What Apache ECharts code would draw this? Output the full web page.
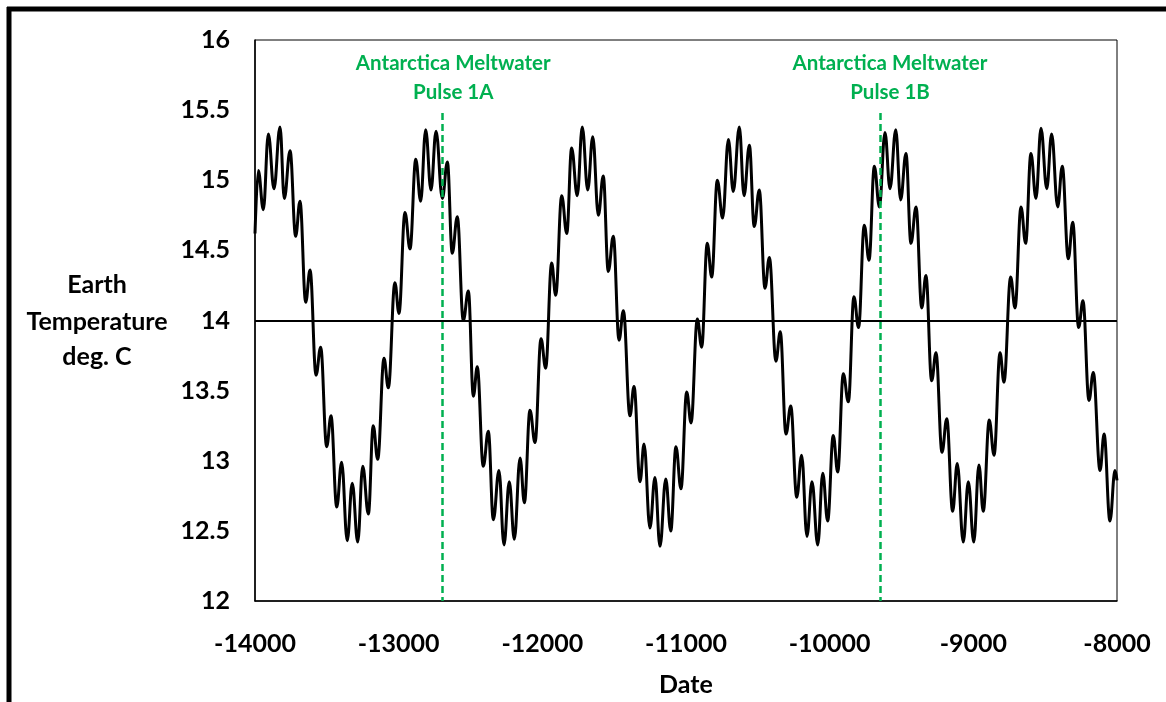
<!DOCTYPE html>
<html><head><meta charset="utf-8">
<script src="https://cdn.jsdelivr.net/npm/echarts@6/dist/echarts.min.js"></script>
<style>html,body{margin:0;padding:0;background:#fff}#c{width:1166px;height:702px}</style>
</head><body><div id="c"></div>
<script>
// Earth temperature curve (local maxima / minima)
const dates = [
-14000,-13977,-13942,-13907,-13868,-13826,-13796,-13756,-13717,-13687,-13647,-13617,
-13575,-13543,-13501,-13471,-13431,-13397,-13358,-13323,-13285,-13250,-13211,-13177,
-13146,-13102,-13072,-13026,-12998,-12956,-12921,-12881,-12847,-12812,-12775,-12740,
-12696,-12661,-12627,-12592,-12550,-12515,-12480,-12453,-12411,-12376,-12341,-12302,
-12267,-12230,-12195,-12155,-12125,-12086,-12051,-12009,-11977,-11935,-11907,-11865,
-11830,-11796,-11757,-11722,-11684,-11649,-11610,-11576,-11541,-11506,-11466,-11436,
-11390,-11362,-11320,-11292,-11251,-11216,-11181,-11141,-11106,-11070,-11035,-10995,
-10965,-10921,-10891,-10852,-10821,-10782,-10745,-10705,-10671,-10629,-10596,-10559,
-10525,-10490,-10450,-10420,-10374,-10344,-10304,-10271,-10229,-10195,-10158,-10123,
-10083,-10048,-10014,-9975,-9944,-9905,-9870,-9831,-9799,-9759,-9726,-9689,
-9654,-9615,-9580,-9540,-9506,-9469,-9434,-9399,-9359,-9330,-9290,-9260,
-9218,-9185,-9144,-9112,-9070,-9035,-8997,-8961,-8931,-8889,-8856,-8814,
-8787,-8740,-8710,-8668,-8636,-8599,-8564,-8529,-8489,-8455,-8413,-8381,
-8339,-8308,-8267,-8237,-8195,-8165,-8118,-8090,-8049,-8014,-8000
];
const temps = [
14.62,15.07,14.79,15.33,14.94,15.38,14.87,15.21,14.60,14.85,14.13,14.36,
13.61,13.81,13.10,13.32,12.67,12.99,12.43,12.84,12.42,12.96,12.62,13.25,
13.01,13.73,13.52,14.27,14.05,14.77,14.51,15.15,14.85,15.36,14.93,15.35,
14.87,15.13,14.48,14.74,14.00,14.21,13.46,13.67,12.96,13.21,12.58,12.93,
12.40,12.85,12.44,13.02,12.70,13.36,13.13,13.87,13.66,14.41,14.18,14.89,
14.62,15.23,14.89,15.38,14.93,15.31,14.75,15.03,14.35,14.60,13.86,14.07,
13.32,13.53,12.85,13.12,12.52,12.88,12.39,12.87,12.50,13.10,12.80,13.49,
13.27,14.01,13.81,14.55,14.31,15.00,14.73,15.29,14.92,15.38,14.89,15.25,
14.67,14.93,14.23,14.45,13.71,13.92,13.19,13.39,12.74,13.04,12.46,12.85,
12.40,12.91,12.57,13.18,12.92,13.62,13.42,14.17,13.95,14.68,14.43,15.10,
14.81,15.34,14.94,15.36,14.86,15.19,14.55,14.81,14.09,14.32,13.57,13.77,
13.06,13.30,12.64,12.98,12.42,12.85,12.42,12.97,12.64,13.29,13.04,13.77,
13.56,14.31,14.09,14.81,14.55,15.19,14.87,15.37,14.94,15.33,14.81,15.10,
14.44,14.70,13.95,14.14,13.43,13.63,12.93,13.19,12.57,12.93,12.86
];
const xMin = -14000, xMax = -8000, xStep = 1000;
const yMin = 12, yMax = 16, yStep = 0.5;
const referenceTemp = 14;
const pulseDates = [-12700, -9650];
const pulseTop = 15.48;
const pulseLabelDates = [-12620, -9580];
const pulseLabelLines = [['Antarctica Meltwater', 'Pulse 1A'], ['Antarctica Meltwater', 'Pulse 1B']];
const pulseLabelTemps = [15.835, 15.63];
const yTitleLines = ['Earth', 'Temperature', 'deg. C'];
const xTitle = 'Date';

const FONT = 'Lato, "Open Sans", sans-serif';
const GREEN = '#00B050';
const chart = echarts.init(document.getElementById('c'), null, {renderer: 'canvas'});
const seriesData = dates.map((d, i) => [d, temps[i]]);

chart.setOption({
  animation: false,
  backgroundColor: '#fff',
  grid: {left: 255, top: 40, right: 49, bottom: 101, show: true, borderColor: '#000', borderWidth: 1,
         containLabel: false, outerBoundsMode: 'none'},
  xAxis: {
    type: 'value', min: xMin, max: xMax, interval: xStep,
    axisLine: {show: true, lineStyle: {color: '#000', width: 1.5}},
    axisTick: {show: false},
    splitLine: {show: false},
    axisLabel: {color: '#000', fontFamily: FONT, fontWeight: 'bold', fontSize: 25, margin: 30,
                formatter: v => String(v)},
    name: xTitle, nameLocation: 'middle', nameGap: 71,
    nameTextStyle: {color: '#000', fontFamily: FONT, fontWeight: 'bold', fontSize: 25}
  },
  yAxis: {
    type: 'value', min: yMin, max: yMax, interval: yStep,
    axisLine: {show: true, lineStyle: {color: '#000', width: 1.5}},
    axisTick: {show: false},
    splitLine: {show: false},
    axisLabel: {color: '#000', fontFamily: FONT, fontWeight: 'bold', fontSize: 25, margin: 25,
                formatter: v => String(v)}
  },
  series: [
    {
      type: 'line', data: seriesData, showSymbol: false, smooth: 0.4, smoothMonotone: 'x',
      lineStyle: {color: '#000', width: 3}, z: 3,
      markLine: {
        silent: true, symbol: 'none', label: {show: false},
        lineStyle: {color: '#000', width: 2, type: 'solid'},
        data: [{yAxis: referenceTemp}]
      }
    },
    {
      type: 'line', data: [], z: 4,
      markLine: {
        silent: true, symbol: 'none', label: {show: false},
        lineStyle: {color: GREEN, width: 2.5, type: [7, 4]},
        data: pulseDates.map(d => [{coord: [d, pulseTop]}, {coord: [d, yMin]}])
      }
    }
  ]
});

function buildGraphics() {
  const els = [];
  pulseLabelDates.forEach((d, i) => {
    pulseLabelLines[i].forEach((txt, j) => {
      const p = chart.convertToPixel({gridIndex: 0}, [d, pulseLabelTemps[j]]);
      els.push({type: 'text', x: p[0], y: p[1], z: 10,
        style: {text: txt, fill: GREEN, font: 'bold 20.5px ' + FONT, textAlign: 'center', textVerticalAlign: 'middle'}});
    });
  });
  const ty = [285, 322, 357];
  yTitleLines.forEach((txt, j) => {
    els.push({type: 'text', x: 97, y: ty[j], z: 10,
      style: {text: txt, fill: '#000', font: 'bold 25px ' + FONT, textAlign: 'center', textVerticalAlign: 'middle'}});
  });
  els.push({type: 'line', shape: {x1: 9, y1: 7, x2: 9, y2: 702}, style: {stroke: '#000', lineWidth: 5}, z: 20});
  els.push({type: 'line', shape: {x1: 7, y1: 9, x2: 1166, y2: 9}, style: {stroke: '#000', lineWidth: 5}, z: 20});
  chart.setOption({graphic: els});
}
buildGraphics();
</script>
</body></html>
